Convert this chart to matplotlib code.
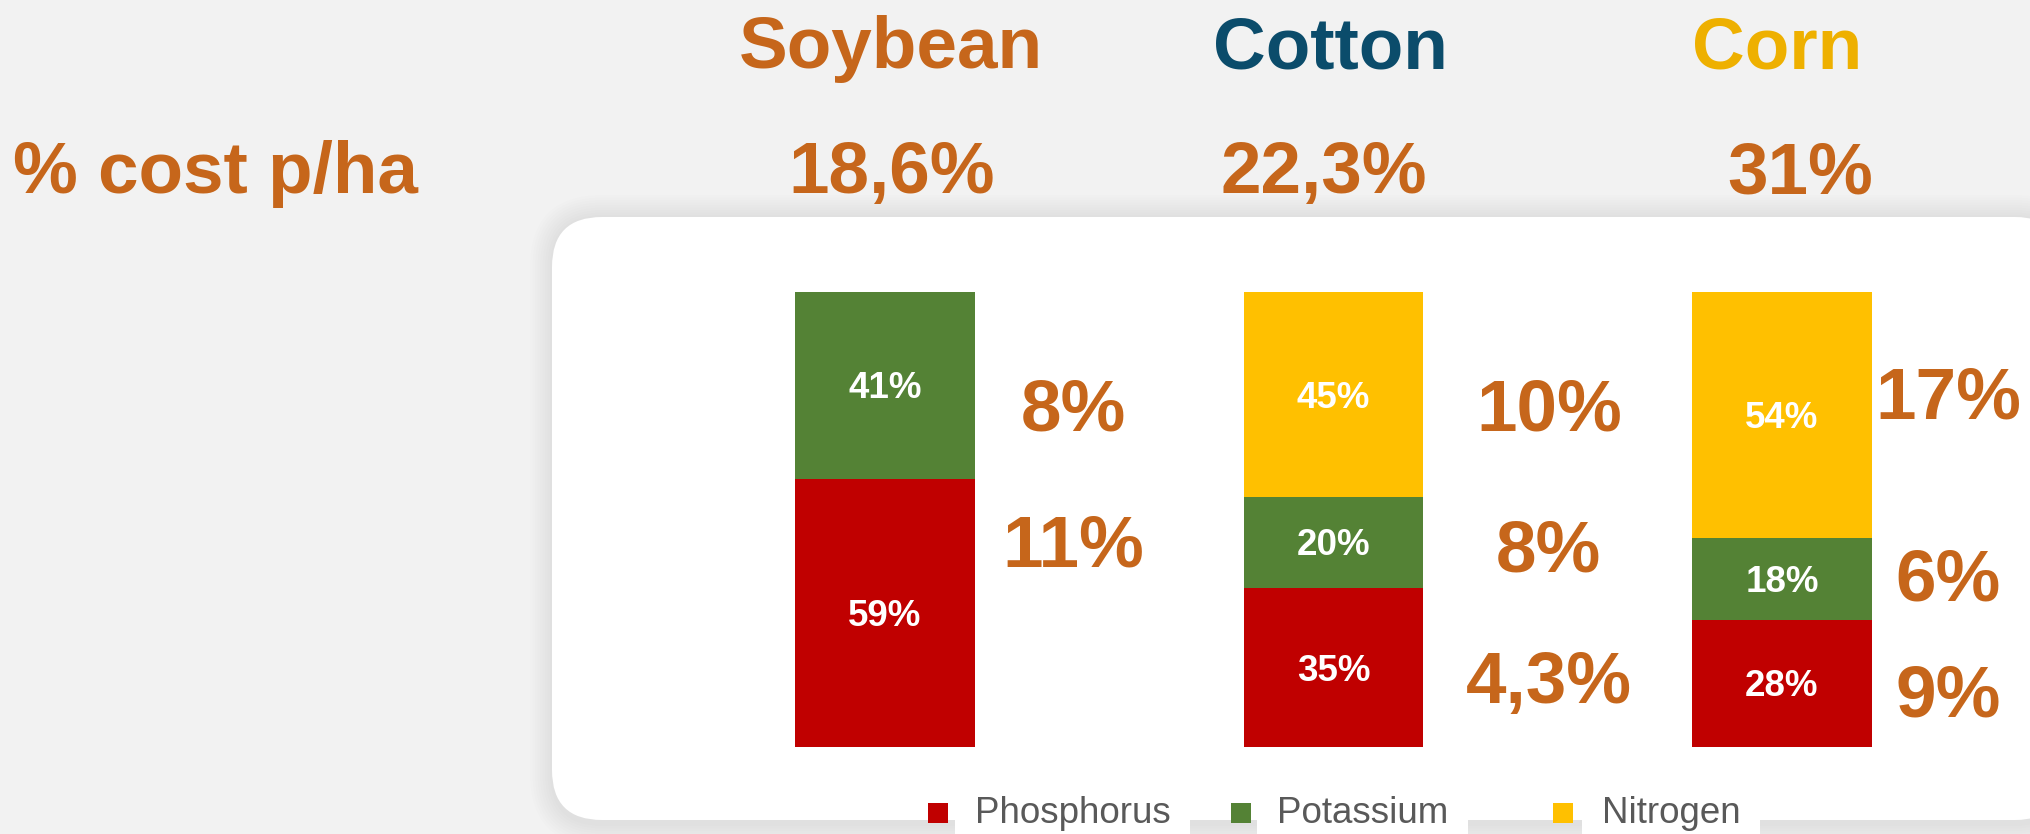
import numpy as np
import matplotlib.pyplot as plt
from matplotlib.patches import FancyBboxPatch
import matplotlib.transforms as mtransforms

plt.rcParams['font.family'] = ['Liberation Sans', 'DejaVu Sans']

### data
crops = ["Soybean", "Cotton", "Corn"]
cost_share = ["18,6%", "22,3%", "31%"]
nutrients = ["Phosphorus", "Potassium", "Nitrogen"]

# split of the fertilizer bill per crop (stacked, sums to 100)
phosphorus = [59, 35, 28]
potassium = [41, 20, 18]
nitrogen = [0, 45, 54]

# share of production cost per ha printed beside each segment (P, K, N)
side_soybean = ["11%", "8%", None]
side_cotton = ["4,3%", "8%", "10%"]
side_corn = ["9%", "6%", "17%"]

### colours
BG = "#f2f2f2"
ORANGE = "#C6661B"
title_colors = [ORANGE, "#0B4C6B", "#EEB000"]
bar_colors = ["#C00000", "#548235", "#FFC000"]
LEGEND_GREY = "#595959"

### layout (pixels on a 2031 x 834 canvas)
W, H = 2031, 834
bar_px = [885, 1333, 1782]          # bar centres
step_px = 448.5
bar_bottom, bar_top = 747, 292
title_x = [891, 1330, 1777]
share_x = [892, 1324, 1800]
side_dx = [0.42, 0.48, 0.37]        # offset of the side labels from bar centre (bar units)
side_y = [[45.3, 75.4, None], [15.4, 44.4, 75.2], [12.5, 38.0, 78.0]]
legend_marker_x = [938, 1241, 1563]
legend_text_x = [975, 1277, 1602]

BIG = 52.5
SMALL = 26.5

fig = plt.figure(figsize=(W / 100, H / 100), dpi=100, facecolor=BG)

### background axes in pixel coords (y down)
bg = fig.add_axes([0, 0, 1, 1])
bg.set_xlim(0, W)
bg.set_ylim(H, 0)
bg.axis("off")

# soft shadow + white card (runs off the right edge)
card_x, card_y, card_w, card_h = 552, 217, 1513, 603
for i in range(9):
    g = 2 + i * 2.5
    bg.add_patch(FancyBboxPatch((card_x - g, card_y - g), card_w + 2 * g, card_h + 2 * g + 4,
                                boxstyle=f"round,pad=0,rounding_size={50 + g}",
                                fc="black", ec="none", alpha=0.006, zorder=1))
bg.add_patch(FancyBboxPatch((card_x, card_y), card_w, card_h,
                            boxstyle="round,pad=0,rounding_size=50",
                            fc="white", ec="none", zorder=2))

### headers
for name, col, x in zip(crops, title_colors, title_x):
    bg.text(x, 68, name, ha="center", va="baseline", fontsize=BIG,
            fontweight="bold", color=col)

bg.text(13, 193, "% cost p/ha", ha="left", va="baseline", fontsize=BIG,
        fontweight="bold", color=ORANGE)
for val, x in zip(cost_share, share_x):
    bg.text(x, 193, val, ha="center", va="baseline", fontsize=BIG,
            fontweight="bold", color=ORANGE)

### legend (drawn by hand, white boxes hang over the card edge)
for name, col, mx, tx in zip(nutrients, bar_colors, legend_marker_x, legend_text_x):
    bg.scatter([mx], [813], marker="s", s=190, color=col, zorder=5, linewidths=0)
    bg.text(tx, 823, name, ha="left", va="baseline", fontsize=SMALL,
            color=LEGEND_GREY, zorder=4,
            bbox=dict(fc="white", ec="none", pad=14))

### bar axes: x in bar units, y in %
ax = fig.add_axes([0, (H - bar_bottom) / H, 1, (bar_bottom - bar_top) / H])
ax.set_xlim(-bar_px[0] / step_px, (W - bar_px[0]) / step_px)
ax.set_ylim(0, 100)
ax.axis("off")
ax.patch.set_visible(False)

# baseline shifts so digits sit centred on the given y value
small_shift = mtransforms.offset_copy(ax.transData, fig=fig, y=-0.358 * SMALL, units="points")
big_shift = mtransforms.offset_copy(ax.transData, fig=fig, y=-0.358 * BIG, units="points")

x = np.arange(len(crops))
segments = [phosphorus, potassium, nitrogen]
bottom = np.zeros(len(crops))
for vals, col in zip(segments, bar_colors):
    vals = np.array(vals, dtype=float)
    ax.bar(x, vals, bottom=bottom, width=0.4, color=col, linewidth=0, zorder=3)
    for xi, v, b in zip(x, vals, bottom):
        if v > 0:
            ax.text(xi, b + v / 2, f"{int(v)}%", ha="center", va="baseline",
                    fontsize=SMALL, fontweight="bold", color="white", zorder=4,
                    transform=small_shift)
    bottom += vals

# big side labels
side = [side_soybean, side_cotton, side_corn]
for i, labels in enumerate(side):
    for lab, yy in zip(labels, side_y[i]):
        if lab is None:
            continue
        ax.text(i + side_dx[i], yy, lab, ha="center", va="baseline", fontsize=BIG,
                fontweight="bold", color=ORANGE, transform=big_shift, clip_on=False)

fig.savefig("out.png", dpi=100, facecolor=BG)
